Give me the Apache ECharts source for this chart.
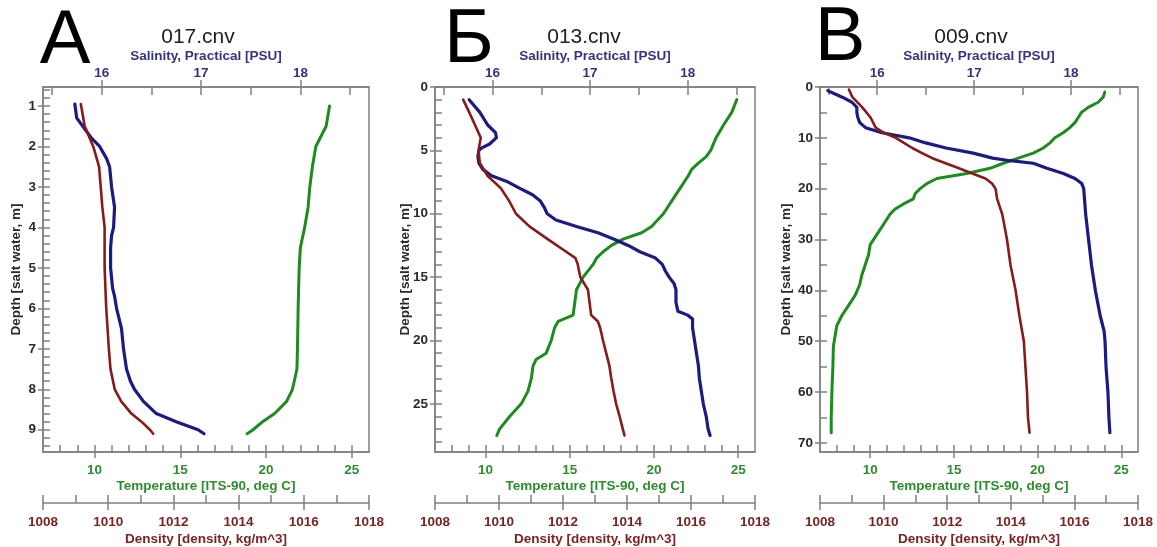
<!DOCTYPE html>
<html><head><meta charset="utf-8">
<script src="https://cdn.jsdelivr.net/npm/echarts@6/dist/echarts.min.js"></script>
<style>html,body{margin:0;padding:0;background:#fff}#c{width:1157px;height:547px}</style>
</head><body><div id="c"></div><script>
// ---------- DATA ----------
// Panel А (017.cnv)
const A_tempDepth = [1,1.5,2,2.5,3,3.5,4,4.5,5,6,7,7.5,8,8.3,8.6,8.8,9,9.1];
const A_temp      = [23.7,23.5,22.9,22.7,22.55,22.45,22.25,22.0,21.93,21.87,21.83,21.8,21.54,21.2,20.5,19.8,19.24,18.9];
const A_salDepth  = [0.95,1.3,1.6,1.8,2,2.3,2.5,3,3.5,4,4.2,4.5,5,5.5,5.7,6,6.5,7,7.5,7.8,8,8.3,8.6,8.8,9,9.1];
const A_sal       = [15.73,15.75,15.84,15.9,15.98,16.05,16.08,16.1,16.13,16.12,16.1,16.09,16.09,16.11,16.13,16.15,16.2,16.22,16.25,16.29,16.33,16.42,16.55,16.75,16.97,17.03];
const A_densDepth = [0.95,1.5,2,2.5,3,3.5,4,5,6,7,7.5,8,8.3,8.6,8.8,9,9.1];
const A_dens      = [1009.16,1009.28,1009.54,1009.72,1009.77,1009.82,1009.89,1009.89,1009.94,1010.02,1010.07,1010.2,1010.4,1010.71,1011.02,1011.28,1011.38];
// Panel Б (013.cnv)
const B_tempDepth = [1,2,3,4,5,5.5,6,6.5,7,8,9,10,11,11.5,12,12.5,13,13.5,14,15,16,17,18,18.5,19,20,21,21.5,22,23,24,25,26,27,27.5];
const B_temp      = [24.92,24.62,24.13,23.69,23.37,23.1,22.64,22.24,22.04,21.55,21.05,20.56,19.86,19.27,18.17,17.48,16.98,16.59,16.39,15.79,15.4,15.3,15.2,14.31,14.1,13.9,13.6,13.0,12.82,12.72,12.52,12.12,11.43,10.83,10.67];
const B_salDepth  = [1,2,3,3.6,4,4.5,4.8,5,5.5,6,6.5,7,7.5,8,8.5,9,9.5,10,10.5,11,11.5,12,12.5,13,13.5,14,14.5,15,15.5,16,17,17.7,18,18.3,19,20,21,22,23,24,25,26,27,27.5];
const B_sal       = [15.76,15.87,15.95,16.03,16.04,15.97,15.89,15.86,15.85,15.86,15.9,15.99,16.16,16.28,16.41,16.49,16.53,16.56,16.65,16.86,17.08,17.24,17.39,17.51,17.67,17.74,17.77,17.81,17.86,17.88,17.88,17.9,18.0,18.05,18.05,18.07,18.09,18.11,18.12,18.14,18.16,18.19,18.21,18.23];
const B_densDepth = [1,2,3,4,5,6,7,8,9,10,11,12,13,13.5,14,15,16,17,18,18.5,19,20,21,22,23,24,25,26,27,27.5];
const B_dens      = [1008.88,1009.07,1009.25,1009.43,1009.36,1009.4,1009.64,1010.06,1010.32,1010.53,1010.95,1011.52,1012.1,1012.39,1012.46,1012.54,1012.78,1012.83,1012.88,1013.09,1013.16,1013.25,1013.35,1013.45,1013.51,1013.58,1013.66,1013.77,1013.87,1013.92];
// Panel В (009.cnv)
const C_tempDepth = [1,2,3,4,5,6,7,8,9,10,11,12,13,14,15,16,17,18,19,20,21,22,23,24,25,27,29,31,33,35,37,39,41,43,45,47,49,51,55,60,65,68];
const C_temp      = [24.02,23.92,23.62,23.02,22.62,22.43,22.23,21.93,21.53,21.03,20.74,20.34,19.74,18.85,17.95,17.16,15.77,13.98,13.38,12.98,12.68,12.58,11.99,11.49,11.19,10.8,10.4,10.0,9.9,9.7,9.5,9.36,9.1,8.7,8.3,8.0,7.9,7.8,7.77,7.71,7.67,7.67];
const C_salDepth  = [0.7,1,2,3,4,5,6,7,8,9,10,11,12,13,14,14.5,15,16,17,18,19,20,25,30,35,40,45,48,50,55,60,65,68];
const C_sal       = [15.49,15.52,15.64,15.74,15.79,15.79,15.8,15.82,15.88,16.05,16.33,16.5,16.71,16.99,17.19,17.37,17.61,17.75,17.92,18.04,18.11,18.13,18.15,18.18,18.21,18.25,18.3,18.34,18.35,18.36,18.38,18.39,18.4];
const C_densDepth = [0.5,2,4,6,8,9,10,11,12,13,14,15,16,17,18,19,20,22,25,30,35,40,45,50,55,60,65,68];
const C_dens      = [1008.91,1009.02,1009.33,1009.59,1009.75,1010.01,1010.38,1010.64,1010.9,1011.21,1011.53,1011.95,1012.37,1012.79,1013.2,1013.41,1013.52,1013.57,1013.73,1013.88,1013.99,1014.15,1014.27,1014.41,1014.46,1014.51,1014.54,1014.59];

// Tick labels
const salLabels  = [16,17,18];
const salTicks   = [15.5,16,16.5,17,17.5,18,18.5];
const tempLabels = [10,15,20,25];
const tempTicks  = [8,9,10,11,12,13,14,15,16,17,18,19,20,21,22,23,24,25];
const densLabels = [1008,1010,1012,1014,1016,1018];
const densTicks  = [1008,1009,1010,1011,1012,1013,1014,1015,1016,1017,1018];
const A_depthLabels = [1,2,3,4,5,6,7,8,9];
const A_depthTicks  = [0.6,0.8,1,1.2,1.4,1.6,1.8,2,2.2,2.4,2.6,2.8,3,3.2,3.4,3.6,3.8,4,4.2,4.4,4.6,4.8,5,5.2,5.4,5.6,5.8,6,6.2,6.4,6.6,6.8,7,7.2,7.4,7.6,7.8,8,8.2,8.4,8.6,8.8,9,9.2,9.4];
const B_depthLabels = [0,5,10,15,20,25];
const B_depthTicks  = [0,1,2,3,4,5,6,7,8,9,10,11,12,13,14,15,16,17,18,19,20,21,22,23,24,25,26,27,28];
const C_depthLabels = [0,10,20,30,40,50,60,70];
const C_depthTicks  = [0,5,10,15,20,25,30,35,40,45,50,55,60,65,70];

const panelLetters = ['А','Б','В'];
const panelFiles   = ['017.cnv','013.cnv','009.cnv'];
const salName  = 'Salinity, Practical [PSU]';
const tempName = 'Temperature [ITS-90, deg C]';
const densName = 'Density [density, kg/m^3]';
const depthName = 'Depth [salt water, m]';

// ---------- STYLE / LAYOUT ----------
const FONT = '"Liberation Sans", Arial, Helvetica, sans-serif';
const GRAY = '#808080';
const C_SAL = '#34347e', C_TEMP = '#2f8c2f', C_DENS = '#7a2424', C_DEPTH = '#2a2a2a';
const L_SAL = '#1b1b82', L_TEMP = '#1f8a1f', L_DENS = '#861b1b';
const FS = 13.5;

const panels = [
  {left:43, right:788, dMin:0.53, dMax:9.55, dLab:A_depthLabels, dTick:A_depthTicks, nameGap:20,
   temp:[A_tempDepth,A_temp], sal:[A_salDepth,A_sal], dens:[A_densDepth,A_dens], letter:[65,42], title:[198,37]},
  {left:435, right:402, dMin:0, dMax:28.8, dLab:B_depthLabels, dTick:B_depthTicks, nameGap:23,
   temp:[B_tempDepth,B_temp], sal:[B_salDepth,B_sal], dens:[B_densDepth,B_dens], letter:[469,41], title:[584,37]},
  {left:820, right:19, dMin:0, dMax:71.8, dLab:C_depthLabels, dTick:C_depthTicks, nameGap:27,
   temp:[C_tempDepth,C_temp], sal:[C_salDepth,C_sal], dens:[C_densDepth,C_dens], letter:[840,39], title:[971,37]}
];

function mainAxis(o){
  return {type:'value', gridIndex:o.g, position:o.pos, offset:o.offset||0, min:o.min, max:o.max, inverse:!!o.inverse,
    name:o.name, nameLocation:'middle', nameGap:o.nameGap, nameMoveOverlap:false,
    nameTextStyle:{color:o.nameColor||o.color, fontSize:FS, fontWeight:'bold', fontFamily:FONT},
    axisLine:{show:true, onZero:false, lineStyle:{color:GRAY, width:1.5}},
    axisTick:{show:true, inside:false, length:o.tickLen, customValues:o.labels, lineStyle:{color:GRAY, width:1.5}},
    minorTick:{show:false},
    axisLabel:{show:true, customValues:o.labels, margin:o.margin, color:o.color, fontSize:FS, fontWeight:'bold', fontFamily:FONT,
      showMinLabel:true, showMaxLabel:true, formatter:(v)=>String(v)},
    splitLine:{show:false}};
}
function innerAxis(o){
  return {type:'value', gridIndex:o.g, position:o.pos, offset:o.offset||0, min:o.min, max:o.max, inverse:!!o.inverse,
    axisLine:{show:false, onZero:false},
    axisTick:{show:true, inside:true, length:o.len, customValues:o.ticks, lineStyle:{color:GRAY, width:1.5}},
    minorTick:{show:false}, axisLabel:{show:false}, splitLine:{show:false}};
}
function line(depths, vals, xi, yi, color, width){
  return {type:'line', xAxisIndex:xi, yAxisIndex:yi, data:vals.map((v,k)=>[v, depths[k]]),
    symbol:'none', smooth:false, silent:true, animation:false,
    lineStyle:{color:color, width:width, cap:'round', join:'round'}, itemStyle:{color:color}};
}

const option = {animation:false, backgroundColor:'#fff', grid:[], xAxis:[], yAxis:[], series:[], graphic:[]};

panels.forEach((p, g) => {
  option.grid.push({left:p.left, right:p.right, top:87, bottom:95, show:true, borderColor:GRAY, borderWidth:1.5,
    backgroundColor:'rgba(0,0,0,0)', containLabel:false, outerBoundsMode:'none'});
  const xb = option.xAxis.length, yb = option.yAxis.length;
  // salinity (top)
  option.xAxis.push(mainAxis({g, pos:'top', min:15.41, max:18.69, labels:salLabels, color:C_SAL, name:salName, nameGap:24, margin:7, tickLen:7}));
  option.xAxis.push(innerAxis({g, pos:'top', min:15.41, max:18.69, ticks:salTicks, len:8}));
  // temperature (bottom)
  option.xAxis.push(mainAxis({g, pos:'bottom', min:7, max:26, labels:tempLabels, color:C_TEMP, name:tempName, nameGap:27, margin:11, tickLen:6}));
  option.xAxis.push(innerAxis({g, pos:'bottom', min:7, max:26, ticks:tempTicks, len:7}));
  // density (bottom, offset)
  option.xAxis.push(mainAxis({g, pos:'bottom', offset:51, min:1008, max:1018, labels:densLabels, color:C_DENS, name:densName, nameGap:29, margin:12, tickLen:7}));
  option.xAxis.push(innerAxis({g, pos:'bottom', offset:51, min:1008, max:1018, ticks:densTicks, len:8}));
  // depth (left)
  option.yAxis.push(mainAxis({g, pos:'left', min:p.dMin, max:p.dMax, inverse:true, labels:p.dLab, color:C_DEPTH, name:depthName, nameGap:p.nameGap, margin:7, tickLen:5}));
  option.yAxis.push(innerAxis({g, pos:'left', min:p.dMin, max:p.dMax, inverse:true, ticks:p.dTick, len:7}));

  option.series.push(line(p.temp[0], p.temp[1], xb+2, yb, L_TEMP, 3));
  option.series.push(line(p.sal[0],  p.sal[1],  xb+0, yb, L_SAL, 3.2));
  option.series.push(line(p.dens[0], p.dens[1], xb+4, yb, L_DENS, 2.6));

  option.graphic.push({type:'text', x:p.letter[0], y:p.letter[1], silent:true,
    style:{text:panelLetters[g], font:'76px '+FONT, fill:'#000', align:'center', verticalAlign:'middle', textAlign:'center', textVerticalAlign:'middle'}});
  option.graphic.push({type:'text', x:p.title[0], y:p.title[1], silent:true,
    style:{text:panelFiles[g], font:'21px '+FONT, fill:'#222', align:'center', verticalAlign:'middle', textAlign:'center', textVerticalAlign:'middle'}});
});

const chart = echarts.init(document.getElementById('c'), null, {renderer:'canvas'});
chart.setOption(option);
</script></body></html>
